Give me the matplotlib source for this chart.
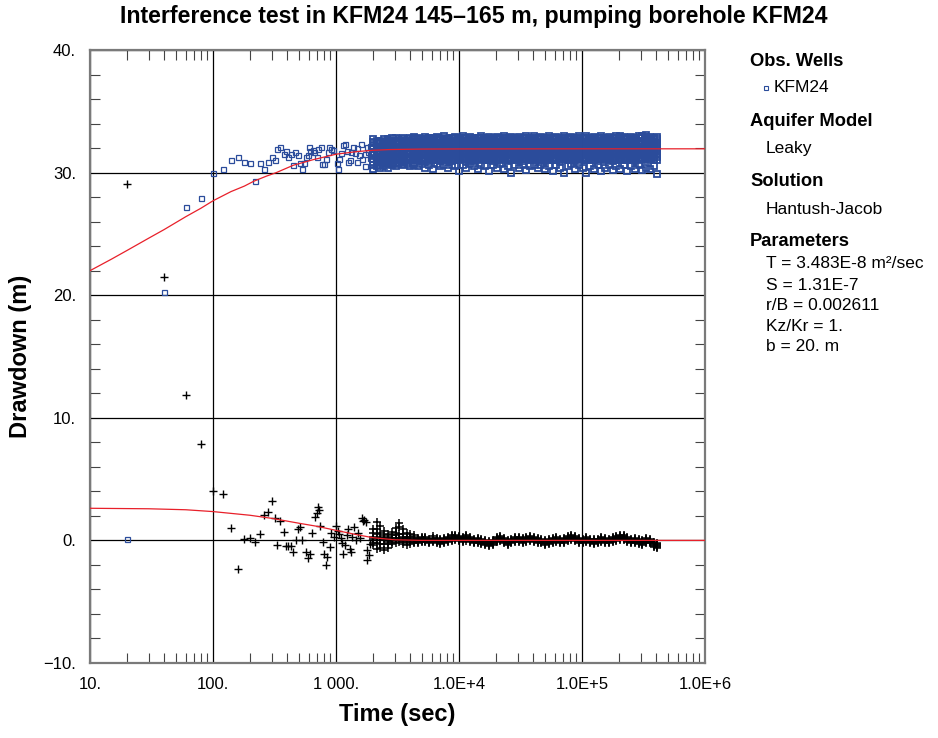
import numpy as np
import matplotlib.pyplot as plt

plt.rcParams['font.family'] = ['Liberation Sans', 'DejaVu Sans']

# early drawdown, obs. well KFM24 (blue squares)
t_obs = [20, 40, 60, 80, 100, 120, 140, 160, 180, 200, 220, 240, 260, 280, 300,
         320, 330, 350, 375, 390, 410, 430, 450, 467, 495, 510, 530, 550, 575,
         590, 603, 620, 645, 666, 697, 710, 751, 776, 800, 826, 866, 880, 917,
         950, 1023, 1047, 1065, 1100, 1150, 1185, 1220, 1250, 1290, 1318, 1384,
         1420, 1490, 1490, 1540, 1585, 1640, 1720, 1720, 1785, 1830, 1880, 1900,
         1950]
s_obs = [0.15, 20.3, 27.2, 27.95, 30.0, 30.27, 31.05, 31.3, 30.9, 30.8, 29.3,
         30.75, 30.3, 30.9, 31.25, 31.0, 31.9, 32.1, 31.5, 31.75, 31.25, 31.55,
         30.6, 31.65, 31.4, 30.8, 30.3, 30.75, 31.25, 31.45, 32.05, 31.8, 31.85,
         31.7, 31.3, 31.9, 32.05, 30.7, 30.7, 31.1, 31.7, 32.05, 31.95, 31.85,
         30.75, 30.3, 31.1, 31.6, 32.25, 32.3, 31.8, 30.9, 31.0, 31.65, 32.1,
         31.6, 32.0, 30.9, 31.4, 32.3, 31.1, 30.5, 31.5, 32.1, 31.7, 31.2, 32.2,
         30.3]

# early derivative (black crosses)
t_der = [20, 40, 60, 80, 100, 120, 140, 160, 180, 200, 220, 240, 260, 280, 300,
         320, 330, 350, 380, 390, 410, 427, 450, 470, 494, 513, 528, 568, 593,
         610, 636, 669, 695, 713, 728, 737, 780, 805, 826, 846, 886, 913, 960,
         1000, 1030, 1060, 1090, 1118, 1150, 1190, 1220, 1260, 1300, 1320, 1360,
         1400, 1450, 1500, 1560, 1620, 1660, 1700, 1740, 1780, 1800, 1850, 1900,
         1980]
d_der = [29.05, 21.45, 11.9, 7.9, 4.0, 3.8, 1.0, -2.35, 0.1, 0.2, -0.16, 0.55,
         2.1, 2.3, 3.2, 1.85, -0.35, 1.6, 0.7, -0.43, -0.43, -0.43, -0.95, 0.0,
         0.95, 1.1, 0.0, -0.95, -1.4, -1.1, 0.6, 1.9, 2.2, 2.7, 2.45, 1.2, -0.15,
         -1.1, -2.04, -1.35, -0.52, 0.57, 0.3, 1.15, 0.8, 0.5, 0.2, -0.22, -1.1,
         -0.4, 0.4, 0.9, -0.7, -0.95, 0.3, 1.1, 0.0, 0.6, 0.2, 1.8, 1.6, 1.7,
         1.5, -0.8, -1.6, -1.2, -0.3, 0.05]

# late-time record: one column of readings per time
t_late = [2000, 2150, 2300, 2470, 2650, 2840, 3050, 3270, 3500, 3760, 4030, 4320,
          4640, 4970, 5330, 5720, 6140, 6580, 7060, 7570, 8120, 8710, 9340,
          10000, 10700, 11500, 12300, 13200, 14200, 15200, 16300, 17500, 18800,
          20200, 21600, 23200, 24900, 26700, 28600, 30700, 32900, 35300, 37900,
          40600, 43600, 46700, 50100, 53800, 57700, 61900, 66400, 71200, 76400,
          81900, 87900, 94300, 101000, 108000, 116000, 125000, 134000, 143000,
          154000, 165000, 177000, 190000, 204000, 218000, 234000, 251000, 270000,
          289000, 310000, 333000, 357000, 383000, 405000]
s_late = [
    [32.7, 32.4, 32.2, 31.9, 31.7, 31.4, 31.1, 30.9, 30.6, 32.0, 31.5, 30.3, 32.5],
    [32.4, 32.1, 31.9, 31.6, 31.3, 31.0, 30.8, 32.6, 31.8, 31.2, 30.5, 32.2, 30.9],
    [32.6, 32.3, 32.0, 31.7, 31.5, 31.3, 30.9, 30.6, 32.1, 31.6, 31.1, 30.4, 32.4],
    [32.5, 32.2, 31.9, 31.8, 31.4, 31.2, 31.0, 30.5, 32.7, 31.6, 30.8, 32.0, 31.3],
    [32.7, 32.5, 32.3, 31.9, 31.7, 31.5, 31.1, 30.7, 32.1, 31.3, 30.4, 32.6, 30.9],
    [32.6, 32.4, 32.2, 31.8, 31.6, 31.4, 31.0, 30.6, 32.8, 32.0, 31.2, 30.8, 31.5],
    [32.8, 32.5, 32.3, 32.0, 31.8, 31.6, 31.2, 30.8, 32.6, 31.4, 31.0, 30.5, 32.1],
    [32.7, 32.5, 32.3, 31.9, 31.7, 31.5, 31.1, 30.7, 32.6, 32.1, 31.3, 30.9, 31.8],
    [32.8, 32.6, 32.4, 32.0, 31.8, 31.6, 31.2, 30.9, 32.5, 32.2, 31.4, 30.6, 31.0],
    [32.7, 32.5, 32.4, 32.0, 31.7, 31.5, 31.3, 30.9, 32.6, 32.2, 31.1, 30.7, 31.8],
    [32.8, 32.6, 32.5, 32.1, 31.9, 31.7, 31.3, 31.0, 32.3, 31.5, 31.1, 30.5, 32.0],
    [32.9, 32.7, 32.5, 32.1, 31.8, 31.6, 31.4, 31.0, 32.3, 31.2, 30.8, 30.6, 32.0],
    [32.85, 32.7, 32.5, 32.35, 32.2, 32.0, 31.85, 31.7, 31.5, 31.35, 31.2, 31.0, 30.5],
    [32.75, 32.6, 32.45, 32.3, 32.15, 31.95, 31.8, 31.6, 31.45, 31.3, 31.15, 30.95, 30.7],
    [32.9, 32.75, 32.55, 32.4, 32.2, 32.05, 31.9, 31.7, 31.55, 31.4, 31.2, 31.05, 30.4],
    [32.8, 32.65, 32.5, 32.3, 32.15, 32.0, 31.8, 31.65, 31.5, 31.3, 31.15, 30.95, 30.6],
    [32.85, 32.7, 32.55, 32.35, 32.2, 32.05, 31.85, 31.7, 31.55, 31.35, 31.2, 31.0, 30.3],
    [32.9, 32.75, 32.6, 32.4, 32.25, 32.1, 31.9, 31.75, 31.6, 31.4, 31.25, 31.05, 30.7],
    [32.8, 32.65, 32.45, 32.3, 32.15, 31.95, 31.8, 31.6, 31.45, 31.3, 31.1, 30.95, 30.5],
    [32.95, 32.75, 32.55, 32.4, 32.25, 32.05, 31.9, 31.75, 31.55, 31.4, 31.25, 31.05, 30.6],
    [32.85, 32.7, 32.5, 32.35, 32.2, 32.0, 31.85, 31.7, 31.5, 31.35, 31.2, 31.0, 30.4],
    [32.8, 32.6, 32.45, 32.3, 32.1, 31.95, 31.8, 31.6, 31.45, 31.3, 31.1, 30.95, 30.6],
    [32.9, 32.75, 32.6, 32.4, 32.25, 32.1, 31.9, 31.75, 31.6, 31.4, 31.25, 31.05, 30.5],
    [32.85, 32.7, 32.5, 32.35, 32.2, 32.0, 31.85, 31.7, 31.5, 31.35, 31.2, 31.0, 30.1],
    [32.95, 32.8, 32.6, 32.45, 32.3, 32.1, 31.95, 31.8, 31.6, 31.45, 31.3, 31.1, 30.6],
    [32.8, 32.65, 32.5, 32.3, 32.15, 32.0, 31.8, 31.65, 31.5, 31.3, 31.15, 30.95, 30.4],
    [32.9, 32.75, 32.55, 32.4, 32.25, 32.05, 31.9, 31.7, 31.55, 31.4, 31.2, 31.05, 30.7],
    [32.8, 32.6, 32.45, 32.3, 32.1, 31.95, 31.8, 31.6, 31.45, 31.3, 31.1, 30.95, 30.5],
    [32.85, 32.7, 32.55, 32.35, 32.2, 32.05, 31.85, 31.7, 31.55, 31.35, 31.2, 31.0, 30.3],
    [32.95, 32.8, 32.6, 32.45, 32.3, 32.1, 31.95, 31.8, 31.6, 31.45, 31.3, 31.1, 30.6],
    [32.85, 32.7, 32.5, 32.35, 32.2, 32.0, 31.85, 31.7, 31.5, 31.35, 31.2, 31.0, 30.5],
    [32.9, 32.75, 32.55, 32.4, 32.25, 32.05, 31.9, 31.7, 31.55, 31.4, 31.2, 31.05, 30.1],
    [32.8, 32.65, 32.45, 32.3, 32.15, 31.95, 31.8, 31.6, 31.45, 31.3, 31.1, 30.95, 30.6],
    [32.9, 32.75, 32.6, 32.4, 32.25, 32.1, 31.9, 31.75, 31.6, 31.4, 31.25, 31.05, 30.4],
    [32.85, 32.7, 32.5, 32.35, 32.2, 32.0, 31.85, 31.7, 31.5, 31.35, 31.2, 31.0, 30.7],
    [32.95, 32.8, 32.6, 32.45, 32.3, 32.1, 31.95, 31.8, 31.6, 31.45, 31.3, 31.1, 30.3],
    [32.8, 32.65, 32.5, 32.3, 32.15, 32.0, 31.8, 31.65, 31.5, 31.3, 31.15, 30.95, 30.5],
    [32.9, 32.75, 32.55, 32.4, 32.25, 32.05, 31.9, 31.7, 31.55, 31.4, 31.2, 31.05, 30.0],
    [32.85, 32.7, 32.5, 32.35, 32.2, 32.0, 31.85, 31.7, 31.5, 31.35, 31.2, 31.0, 30.6],
    [32.9, 32.75, 32.6, 32.4, 32.25, 32.1, 31.9, 31.75, 31.6, 31.4, 31.25, 31.05, 30.4],
    [32.8, 32.65, 32.45, 32.3, 32.15, 31.95, 31.8, 31.6, 31.45, 31.3, 31.1, 30.95, 30.6],
    [32.95, 32.8, 32.6, 32.45, 32.3, 32.1, 31.95, 31.8, 31.6, 31.45, 31.3, 31.1, 30.2],
    [32.85, 32.7, 32.5, 32.35, 32.2, 32.0, 31.85, 31.7, 31.5, 31.35, 31.2, 31.0, 30.5],
    [33.0, 32.8, 32.6, 32.4, 32.25, 32.05, 31.9, 31.75, 31.55, 31.4, 31.2, 31.05, 30.6],
    [32.85, 32.7, 32.5, 32.35, 32.2, 32.0, 31.85, 31.7, 31.5, 31.35, 31.2, 31.0, 30.4],
    [32.9, 32.75, 32.6, 32.4, 32.25, 32.1, 31.9, 31.75, 31.6, 31.4, 31.25, 31.05, 30.6],
    [32.8, 32.65, 32.45, 32.3, 32.15, 31.95, 31.8, 31.6, 31.45, 31.3, 31.1, 30.95, 30.3],
    [32.95, 32.8, 32.6, 32.45, 32.3, 32.1, 31.95, 31.8, 31.6, 31.45, 31.3, 31.1, 30.5],
    [32.85, 32.7, 32.5, 32.35, 32.2, 32.0, 31.85, 31.7, 31.5, 31.35, 31.2, 31.0, 30.1],
    [32.9, 32.75, 32.55, 32.4, 32.25, 32.05, 31.9, 31.7, 31.55, 31.4, 31.2, 31.05, 30.6],
    [32.8, 32.65, 32.5, 32.3, 32.15, 32.0, 31.8, 31.65, 31.5, 31.3, 31.15, 30.95, 30.4],
    [33.0, 32.8, 32.6, 32.45, 32.3, 32.1, 31.95, 31.8, 31.6, 31.45, 31.3, 31.1, 30.0],
    [32.85, 32.7, 32.5, 32.35, 32.2, 32.0, 31.85, 31.7, 31.5, 31.35, 31.2, 31.0, 30.5],
    [32.9, 32.75, 32.6, 32.4, 32.25, 32.1, 31.9, 31.75, 31.6, 31.4, 31.25, 31.05, 30.7],
    [32.8, 32.65, 32.45, 32.3, 32.15, 31.95, 31.8, 31.6, 31.45, 31.3, 31.1, 30.95, 30.3],
    [32.95, 32.8, 32.6, 32.45, 32.3, 32.1, 31.95, 31.8, 31.6, 31.45, 31.3, 31.1, 30.6],
    [32.85, 32.7, 32.5, 32.35, 32.2, 32.0, 31.85, 31.7, 31.5, 31.35, 31.2, 31.0, 30.4],
    [33.0, 32.8, 32.6, 32.4, 32.25, 32.05, 31.9, 31.75, 31.55, 31.4, 31.2, 31.05, 30.0],
    [32.85, 32.7, 32.5, 32.35, 32.2, 32.0, 31.85, 31.7, 31.5, 31.35, 31.2, 31.0, 30.5],
    [32.9, 32.75, 32.6, 32.4, 32.25, 32.1, 31.9, 31.75, 31.6, 31.4, 31.25, 31.05, 30.3],
    [32.8, 32.65, 32.45, 32.3, 32.15, 31.95, 31.8, 31.6, 31.45, 31.3, 31.1, 30.95, 30.6],
    [32.95, 32.8, 32.6, 32.45, 32.3, 32.1, 31.95, 31.8, 31.6, 31.45, 31.3, 31.1, 30.1],
    [32.85, 32.7, 32.5, 32.35, 32.2, 32.0, 31.85, 31.7, 31.5, 31.35, 31.2, 31.0, 30.4],
    [32.9, 32.75, 32.55, 32.4, 32.25, 32.05, 31.9, 31.7, 31.55, 31.4, 31.2, 31.05, 30.6],
    [32.8, 32.65, 32.5, 32.3, 32.15, 32.0, 31.8, 31.65, 31.5, 31.3, 31.15, 30.95, 30.2],
    [32.95, 32.8, 32.6, 32.45, 32.3, 32.1, 31.95, 31.8, 31.6, 31.45, 31.3, 31.1, 30.5],
    [33.0, 32.8, 32.6, 32.4, 32.25, 32.05, 31.9, 31.75, 31.55, 31.4, 31.2, 31.05, 30.3],
    [32.9, 32.75, 32.6, 32.4, 32.25, 32.1, 31.9, 31.75, 31.6, 31.4, 31.25, 31.05, 30.6],
    [32.85, 32.7, 32.5, 32.35, 32.2, 32.0, 31.85, 31.7, 31.5, 31.35, 31.2, 31.0, 30.1],
    [32.9, 32.75, 32.55, 32.4, 32.25, 32.05, 31.9, 31.7, 31.55, 31.4, 31.2, 31.05, 30.5],
    [32.8, 32.65, 32.45, 32.3, 32.15, 31.95, 31.8, 31.6, 31.45, 31.3, 31.1, 30.95, 30.3],
    [32.95, 32.8, 32.6, 32.45, 32.3, 32.1, 31.95, 31.8, 31.6, 31.45, 31.3, 31.1, 30.6],
    [33.0, 32.8, 32.6, 32.4, 32.25, 32.05, 31.9, 31.75, 31.55, 31.4, 31.2, 31.05, 30.2],
    [33.1, 32.9, 32.7, 32.5, 32.3, 32.15, 31.95, 31.8, 31.6, 31.45, 31.3, 31.1, 30.4],
    [32.9, 32.75, 32.55, 32.4, 32.25, 32.05, 31.9, 31.7, 31.55, 31.4, 31.2, 31.05, 30.3],
    [32.85, 32.7, 32.5, 32.35, 32.2, 32.0, 31.85, 31.7, 31.5, 31.35, 31.2, 31.0, 30.5],
    [32.9, 32.75, 32.6, 32.4, 32.25, 32.1, 31.9, 31.75, 31.6, 31.4, 31.25, 31.0, 29.9],
]
d_late = [
    [0.9, -0.4, 0.3, 0.1, -0.2, 0.6],
    [1.5, 0.2, -0.7, 0.9, -0.2, 0.5],
    [1.2, 0.6, -0.3, 0.3, -0.6, 0.0],
    [0.8, -0.8, 0.1, 0.4, -0.3, 0.2],
    [0.5, -0.1, -0.6, 0.3, 0.1, -0.3],
    [0.7, 0.2, -0.3, 0.4, 0.0, -0.1],
    [1.0, 0.4, -0.2, 0.2, 0.0, 0.6],
    [1.4, 0.5, -0.1, 1.1, 0.2, 0.0],
    [0.9, 0.3, -0.3, 0.5, 0.1, -0.1],
    [0.6, 0.1, -0.4, 0.3, -0.1, 0.2],
    [0.5, 0.0, -0.3, 0.3, 0.15, -0.15],
    [0.4, 0.05, -0.25, 0.25, -0.1, 0.15],
    [0.2, 0.12, 0.05, -0.03, -0.12, -0.2],
    [0.3, 0.22, 0.14, 0.06, -0.02, -0.1],
    [0.25, 0.17, 0.09, 0.01, -0.07, -0.15],
    [0.15, 0.07, -0.01, -0.09, -0.17, -0.25],
    [0.32, 0.22, 0.13, 0.05, -0.03, -0.12],
    [0.2, 0.12, 0.04, -0.04, -0.12, -0.2],
    [0.1, 0.02, -0.06, -0.14, -0.22, -0.3],
    [0.22, 0.13, 0.05, -0.04, -0.12, -0.22],
    [0.3, 0.22, 0.14, 0.06, -0.02, -0.1],
    [0.42, 0.32, 0.23, 0.15, 0.07, -0.02],
    [0.45, 0.37, 0.29, 0.21, 0.13, 0.05],
    [0.35, 0.27, 0.19, 0.11, 0.03, -0.05],
    [0.25, 0.17, 0.09, 0.01, -0.07, -0.15],
    [0.42, 0.32, 0.24, 0.16, 0.08, -0.02],
    [0.3, 0.22, 0.14, 0.06, -0.02, -0.1],
    [0.15, 0.07, -0.01, -0.09, -0.17, -0.25],
    [0.2, 0.12, 0.04, -0.04, -0.12, -0.2],
    [0.1, 0.02, -0.06, -0.14, -0.22, -0.32],
    [0.0, -0.08, -0.16, -0.24, -0.32, -0.4],
    [-0.05, -0.13, -0.21, -0.29, -0.37, -0.45],
    [0.05, -0.03, -0.11, -0.19, -0.27, -0.35],
    [0.25, 0.17, 0.09, 0.01, -0.07, -0.15],
    [0.37, 0.27, 0.19, 0.11, 0.03, -0.05],
    [0.2, 0.12, 0.04, -0.04, -0.12, -0.2],
    [0.05, -0.03, -0.11, -0.19, -0.27, -0.37],
    [0.15, 0.07, -0.01, -0.09, -0.17, -0.25],
    [0.25, 0.17, 0.09, 0.01, -0.07, -0.15],
    [0.3, 0.22, 0.14, 0.06, -0.02, -0.1],
    [0.2, 0.12, 0.04, -0.04, -0.12, -0.2],
    [0.25, 0.17, 0.09, 0.01, -0.07, -0.15],
    [0.35, 0.27, 0.19, 0.11, 0.03, -0.05],
    [0.3, 0.22, 0.14, 0.06, -0.02, -0.1],
    [0.2, 0.12, 0.04, -0.04, -0.12, -0.2],
    [0.15, 0.07, -0.01, -0.09, -0.17, -0.25],
    [0.05, -0.03, -0.11, -0.19, -0.27, -0.35],
    [0.1, 0.02, -0.06, -0.14, -0.22, -0.3],
    [0.2, 0.12, 0.04, -0.04, -0.12, -0.2],
    [0.25, 0.17, 0.09, 0.01, -0.07, -0.15],
    [0.15, 0.07, -0.01, -0.09, -0.17, -0.25],
    [0.2, 0.12, 0.04, -0.04, -0.12, -0.2],
    [0.35, 0.27, 0.19, 0.11, 0.03, -0.05],
    [0.47, 0.37, 0.29, 0.21, 0.13, 0.05],
    [0.35, 0.27, 0.19, 0.11, 0.03, -0.05],
    [0.2, 0.12, 0.04, -0.04, -0.12, -0.2],
    [0.15, 0.07, -0.01, -0.09, -0.17, -0.25],
    [0.25, 0.17, 0.09, 0.01, -0.07, -0.15],
    [0.15, 0.07, -0.01, -0.09, -0.17, -0.25],
    [0.1, 0.02, -0.06, -0.14, -0.22, -0.3],
    [0.15, 0.07, -0.01, -0.09, -0.17, -0.25],
    [0.25, 0.17, 0.09, 0.01, -0.07, -0.15],
    [0.2, 0.12, 0.04, -0.04, -0.12, -0.2],
    [0.15, 0.07, -0.01, -0.09, -0.17, -0.25],
    [0.25, 0.17, 0.09, 0.01, -0.07, -0.15],
    [0.35, 0.27, 0.19, 0.11, 0.03, -0.05],
    [0.45, 0.37, 0.29, 0.21, 0.13, 0.05],
    [0.4, 0.32, 0.24, 0.16, 0.08, 0.0],
    [0.25, 0.17, 0.09, 0.01, -0.07, -0.15],
    [0.15, 0.07, -0.01, -0.09, -0.17, -0.25],
    [0.2, 0.12, 0.04, -0.04, -0.12, -0.2],
    [0.1, 0.02, -0.06, -0.14, -0.22, -0.3],
    [0.05, -0.03, -0.11, -0.19, -0.27, -0.35],
    [0.2, 0.12, 0.04, -0.04, -0.12, -0.2],
    [0.15, 0.07, -0.01, -0.09, -0.17, -0.25],
    [-0.1, -0.18, -0.26, -0.34, -0.42, -0.5],
    [-0.2, -0.28, -0.36, -0.44, -0.52, -0.6],
]

# Hantush-Jacob fit and its derivative (red lines)
t_fit = [10, 15, 20, 30, 40, 60, 80, 100, 140, 180, 215, 270, 327, 450, 650,
         1000, 1500, 2000, 2700, 5000, 1e4, 1e5, 1e6]
s_fit = [22.0, 22.95, 23.65, 24.65, 25.35, 26.4, 27.1, 27.7, 28.45, 28.9, 29.3,
         29.7, 30.0, 30.6, 31.05, 31.5, 31.72, 31.82, 31.88, 31.92, 31.93,
         31.94, 31.94]
t_dfit = [10, 30, 60, 100, 200, 300, 500, 700, 1000, 1500, 2000, 3000, 5000,
          1e4, 1e6]
d_fit = [2.62, 2.58, 2.5, 2.35, 2.05, 1.8, 1.4, 1.15, 0.82, 0.45, 0.22, 0.05,
         0.0, 0.0, 0.0]

x_ticks = [10, 100, 1e3, 1e4, 1e5, 1e6]
x_labels = ['10.', '100.', '1 000.', '1.0E+4', '1.0E+5', '1.0E+6']
y_ticks = [-10, 0, 10, 20, 30, 40]
y_labels = ['\u221210.', '0.', '10.', '20.', '30.', '40.']

blue = '#2b4c9b'

fig = plt.figure(figsize=(9.38, 7.38), dpi=100)
ax = fig.add_axes([90 / 938, 1 - 663 / 738, 615 / 938, 613 / 738])

tl = np.repeat(t_late, len(s_late[0]))
sl = np.array(s_late).ravel()
td = np.repeat(t_late, len(d_late[0]))
dl = np.array(d_late).ravel()

ax.plot(t_der, d_der, '+', color='black', ms=6, mew=1.0, zorder=3)
ax.plot(td, dl, '+', color='black', ms=6.2, mew=1.1, zorder=3)
ax.plot(t_obs, s_obs, 's', mfc='none', mec=blue, ms=3.6, mew=0.9, zorder=3)
ax.plot(tl, sl, 's', mfc='none', mec=blue, ms=3.9, mew=1.3, zorder=3)
ax.plot(t_fit, s_fit, color='#e8202a', lw=0.9, zorder=4)
ax.plot(t_dfit, d_fit, color='#e8202a', lw=0.9, zorder=4)

ax.set_xscale('log')
ax.set_xlim(10, 1e6)
ax.set_ylim(-10, 40)
ax.set_xticks(x_ticks, labels=x_labels)
ax.set_yticks(y_ticks, labels=y_labels)
ax.set_xticks([m * 10 ** e for e in range(1, 6) for m in range(2, 10)], minor=True)
ax.set_yticks([v for v in range(-8, 40, 2) if v % 10], minor=True)
ax.xaxis.set_minor_formatter(plt.NullFormatter())
ax.tick_params(which='major', length=0, labelsize=12, pad=10)
ax.tick_params(which='minor', direction='in', length=7, width=0.8,
               top=True, right=True, color='#444444')
ax.grid(which='major', color='black', lw=0.9)
for sp in ax.spines.values():
    sp.set_color('#7a7a7a')
    sp.set_linewidth(1.6)

ax.set_xlabel('Time (sec)', fontsize=17, fontweight='bold', labelpad=8)
ax.set_ylabel('Drawdown (m)', fontsize=17, fontweight='bold', labelpad=8)

fig.text(474 / 938, 1 - 17 / 738,
         'Interference test in KFM24 145\u2013165 m, pumping borehole KFM24',
         ha='center', va='center', fontsize=16.7, fontweight='bold')

# info panel on the right
heads = [(61, 'Obs. Wells'), (121, 'Aquifer Model'), (182, 'Solution'),
         (242, 'Parameters')]
body = [(148, 'Leaky'), (209, 'Hantush-Jacob'),
        (264, 'T = 3.483E-8 m\u00b2/sec'), (285, 'S = 1.31E-7'),
        (306, 'r/B = 0.002611'), (326, 'Kz/Kr = 1.'), (347, 'b = 20. m')]
for yy, txt in heads:
    fig.text(750 / 938, 1 - yy / 738, txt, ha='left', va='center',
             fontsize=13.2, fontweight='bold')
for yy, txt in body:
    fig.text(766 / 938, 1 - yy / 738, txt, ha='left', va='center', fontsize=12.5)
fig.text(774 / 938, 1 - 88 / 738, 'KFM24', ha='left', va='center', fontsize=12.5)
fig.add_artist(plt.Line2D([766 / 938], [1 - 88 / 738], marker='s', mfc='none',
                          mec=blue, ms=3, mew=0.8, transform=fig.transFigure))

fig.savefig('out.png', dpi=100)
